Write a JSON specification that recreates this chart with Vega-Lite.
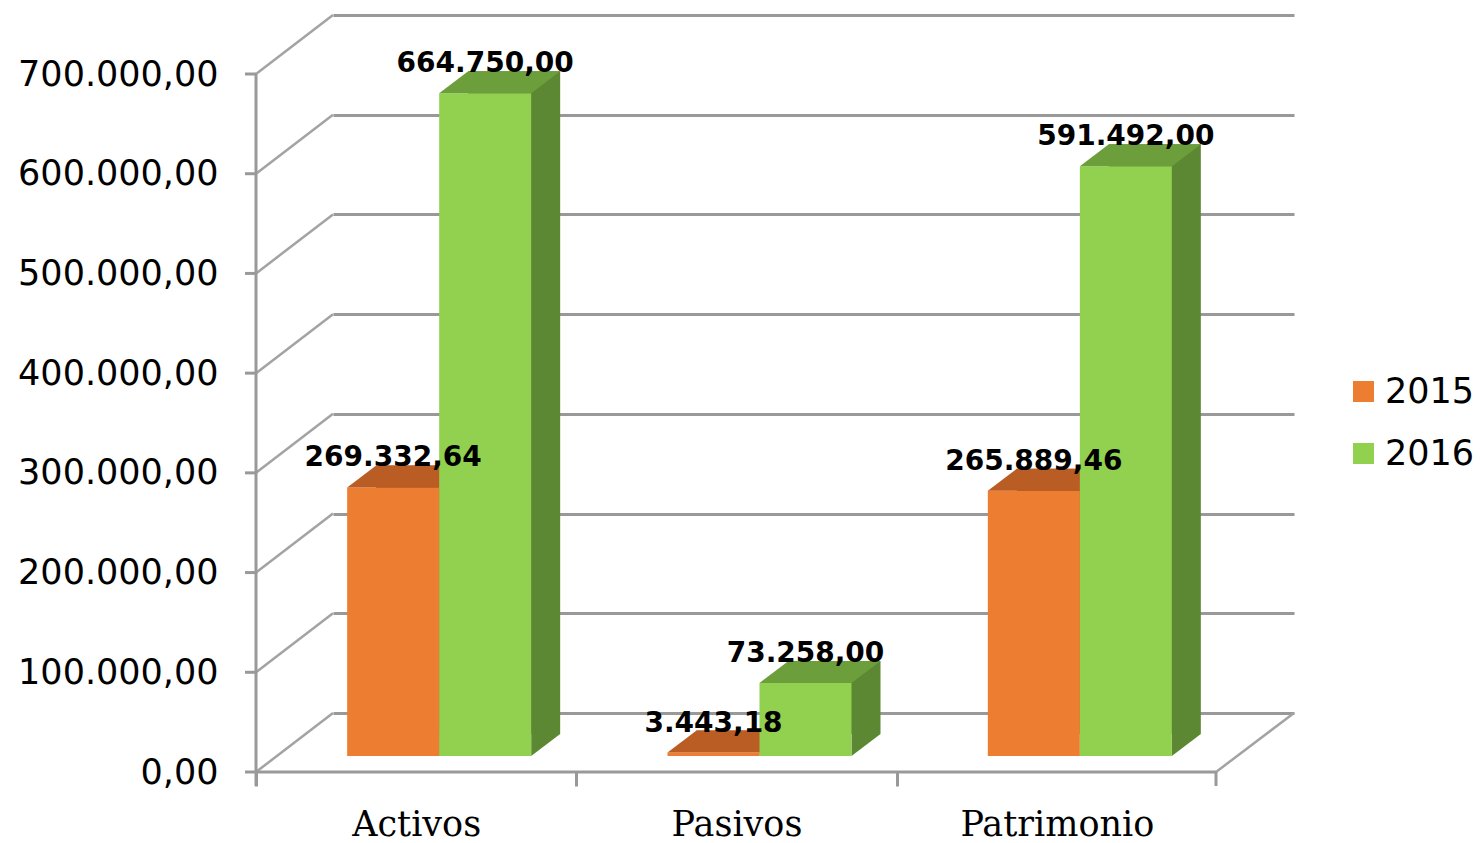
{
  "$schema": "https://vega.github.io/schema/vega-lite/v6.json",
  "width": 961,
  "height": 698,
  "autosize": {"type": "none"},
  "padding": {"left": 333, "top": 15, "right": 186, "bottom": 130},
  "background": "white",
  "config": {
    "locale": {"number": {"decimal": ",", "thousands": ".", "grouping": [3], "currency": ["", " €"]}},
    "view": {"stroke": null}
  },
  "datasets": {
    "bars": [
      {"cat": "Activos", "year": "2015", "value": 269332.64},
      {"cat": "Activos", "year": "2016", "value": 664750.00},
      {"cat": "Pasivos", "year": "2015", "value": 3443.18},
      {"cat": "Pasivos", "year": "2016", "value": 73258.00},
      {"cat": "Patrimonio", "year": "2015", "value": 265889.46},
      {"cat": "Patrimonio", "year": "2016", "value": 591492.00}
    ],
    "ticks": [
      {"v": 0}, {"v": 100000}, {"v": 200000}, {"v": 300000},
      {"v": 400000}, {"v": 500000}, {"v": 600000}, {"v": 700000}
    ],
    "one": [{"k": 1}]
  },
  "layer": [
    {
      "data": {"name": "ticks"},
      "mark": {"type": "rule", "color": "#A3A3A3", "strokeWidth": 2.5, "xOffset": -77, "yOffset": 59, "x2Offset": 0, "y2Offset": 0},
      "encoding": {
        "x": {"datum": "Activos", "type": "nominal", "bandPosition": 0,
              "scale": {"type": "band", "domain": ["Activos", "Pasivos", "Patrimonio"], "paddingInner": 0, "paddingOuter": 0},
              "axis": {"orient": "bottom", "offset": 59, "domain": false, "bandPosition": 0, "tickOffset": -77,
                       "ticks": true, "tickSize": 14, "tickWidth": 3, "tickColor": "#999999",
                       "labelOffset": 0, "labelAngle": 0, "labelFont": "DejaVu Serif", "labelFontSize": 35,
                       "labelColor": "black", "labelPadding": 49, "labelBaseline": "alphabetic", "labelLimit": 0,
                       "grid": false, "title": null}},
        "x2": {"datum": "Activos", "bandPosition": 0},
        "y": {"field": "v", "type": "quantitative",
              "scale": {"domain": [0, 700000], "nice": false, "zero": true},
              "axis": {"orient": "left", "offset": 77, "domain": false, "ticks": false, "tickSize": 0,
                       "grid": true, "gridColor": "#999999", "gridWidth": 3,
                       "labelOffset": 59, "labelPadding": 38, "labelFont": "DejaVu Sans", "labelFontSize": 35,
                       "labelColor": "black", "labelOverlap": false, "labelFlush": false, "labelLimit": 0,
                       "values": [0, 100000, 200000, 300000, 400000, 500000, 600000, 700000],
                       "format": ",.2f", "title": null}},
        "y2": {"field": "v"}
      }
    },
    {
      "data": {"name": "ticks"},
      "mark": {"type": "rule", "color": "#999999", "strokeWidth": 3, "xOffset": -88, "x2Offset": -77, "yOffset": 59},
      "encoding": {
        "x": {"datum": "Activos", "type": "nominal", "bandPosition": 0},
        "x2": {"datum": "Activos", "bandPosition": 0},
        "y": {"field": "v", "type": "quantitative"}
      }
    },
    {
      "data": {"name": "one"},
      "mark": {"type": "rule", "color": "#999999", "strokeWidth": 3, "xOffset": -77, "yOffset": 73, "y2Offset": 59},
      "encoding": {
        "x": {"datum": "Activos", "type": "nominal", "bandPosition": 0},
        "y": {"datum": 0, "type": "quantitative"},
        "y2": {"datum": 700000}
      }
    },
    {
      "data": {"name": "one"},
      "mark": {"type": "rule", "color": "#999999", "strokeWidth": 3, "xOffset": -77, "x2Offset": -78, "yOffset": 59},
      "encoding": {
        "x": {"datum": "Activos", "type": "nominal", "bandPosition": 0},
        "x2": {"datum": "Patrimonio", "bandPosition": 1},
        "y": {"datum": 0, "type": "quantitative"}
      }
    },
    {
      "data": {"name": "one"},
      "mark": {"type": "rule", "color": "#A3A3A3", "strokeWidth": 2.5, "xOffset": -78, "x2Offset": 0, "yOffset": 59, "y2Offset": 0},
      "encoding": {
        "x": {"datum": "Patrimonio", "type": "nominal", "bandPosition": 1},
        "x2": {"datum": "Patrimonio", "bandPosition": 1},
        "y": {"datum": 0, "type": "quantitative"},
        "y2": {"datum": 0}
      }
    },
    {
      "data": {"name": "one"},
      "mark": {"type": "rule", "color": "#999999", "strokeWidth": 3, "xOffset": -78, "yOffset": 59, "y2Offset": 73},
      "encoding": {
        "x": {"datum": "Patrimonio", "type": "nominal", "bandPosition": 1},
        "y": {"datum": 0, "type": "quantitative"},
        "y2": {"datum": 0}
      }
    },
    {
      "data": {"name": "bars"},
      "transform": [{"filter": "datum.year == '2015'"}],
      "mark": {"type": "bar", "width": 92, "color": "#B0561F", "xOffset": -71, "x2Offset": -71, "yOffset": 21, "y2Offset": 21},
      "encoding": {
        "x": {"field": "cat", "type": "nominal"},
        "y": {"field": "value", "type": "quantitative"},
        "y2": {"datum": 0}
      }
    },
    {
      "data": {"name": "bars"},
      "transform": [{"filter": "datum.year == '2015'"}],
      "mark": {"type": "point", "shape": "M 0.92 0 L 0.92 -0.44 L 1.5 -0.44 Z", "size": 10000, "filled": true, "opacity": 1, "strokeWidth": 0, "color": "#B0561F", "xOffset": -100, "yOffset": 43},
      "encoding": {
        "x": {"field": "cat", "type": "nominal"},
        "y": {"datum": 0, "type": "quantitative"}
      }
    },
    {
      "data": {"name": "bars"},
      "transform": [{"filter": "datum.year == '2015'"}],
      "mark": {"type": "bar", "width": 92, "xOffset": -100, "x2Offset": -100, "yOffset": 43, "y2Offset": 43},
      "encoding": {
        "x": {"field": "cat", "type": "nominal"},
        "y": {"field": "value", "type": "quantitative"},
        "y2": {"datum": 0},
        "color": {"field": "year", "type": "nominal",
                  "scale": {"domain": ["2015", "2016"], "range": ["#ED7D31", "#92D050"]},
                  "legend": {"orient": "none", "legendX": 1013, "legendY": 359, "padding": 0, "title": null,
                             "symbolType": "square", "symbolSize": 441, "symbolStrokeWidth": 0,
                             "labelFont": "DejaVu Sans", "labelFontSize": 35, "labelColor": "black", "labelLimit": 0,
                             "rowPadding": 26, "labelOffset": 4}}
      }
    },
    {
      "data": {"name": "bars"},
      "transform": [{"filter": "datum.year == '2015'"}],
      "mark": {"type": "point", "shape": "M -0.92 0 L 0.92 0 L 1.5 -0.44 L -0.34 -0.44 Z", "size": 10000, "filled": true, "opacity": 1, "strokeWidth": 0, "color": "#B95D24", "xOffset": -100, "yOffset": 43},
      "encoding": {
        "x": {"field": "cat", "type": "nominal"},
        "y": {"field": "value", "type": "quantitative"}
      }
    },
    {
      "data": {"name": "bars"},
      "transform": [{"filter": "datum.year == '2016'"}],
      "mark": {"type": "bar", "width": 92, "color": "#5D8833", "xOffset": 21, "x2Offset": 21, "yOffset": 21, "y2Offset": 21},
      "encoding": {
        "x": {"field": "cat", "type": "nominal"},
        "y": {"field": "value", "type": "quantitative"},
        "y2": {"datum": 0}
      }
    },
    {
      "data": {"name": "bars"},
      "transform": [{"filter": "datum.year == '2016'"}],
      "mark": {"type": "point", "shape": "M 0.92 0 L 0.92 -0.44 L 1.5 -0.44 Z", "size": 10000, "filled": true, "opacity": 1, "strokeWidth": 0, "color": "#5D8833", "xOffset": -8, "yOffset": 43},
      "encoding": {
        "x": {"field": "cat", "type": "nominal"},
        "y": {"datum": 0, "type": "quantitative"}
      }
    },
    {
      "data": {"name": "bars"},
      "transform": [{"filter": "datum.year == '2016'"}],
      "mark": {"type": "bar", "width": 92, "xOffset": -8, "x2Offset": -8, "yOffset": 43, "y2Offset": 43},
      "encoding": {
        "x": {"field": "cat", "type": "nominal"},
        "y": {"field": "value", "type": "quantitative"},
        "y2": {"datum": 0},
        "color": {"field": "year", "type": "nominal"}
      }
    },
    {
      "data": {"name": "bars"},
      "transform": [{"filter": "datum.year == '2016'"}],
      "mark": {"type": "point", "shape": "M -0.92 0 L 0.92 0 L 1.5 -0.44 L -0.34 -0.44 Z", "size": 10000, "filled": true, "opacity": 1, "strokeWidth": 0, "color": "#6D9E3C", "xOffset": -8, "yOffset": 43},
      "encoding": {
        "x": {"field": "cat", "type": "nominal"},
        "y": {"field": "value", "type": "quantitative"}
      }
    },
    {
      "data": {"name": "bars"},
      "transform": [{"filter": "datum.year == '2015'"}],
      "mark": {"type": "text", "font": "DejaVu Sans", "fontWeight": "bold", "fontSize": 28, "color": "black", "baseline": "alphabetic", "align": "center", "xOffset": -100, "yOffset": 22},
      "encoding": {
        "x": {"field": "cat", "type": "nominal"},
        "y": {"field": "value", "type": "quantitative"},
        "text": {"field": "value", "type": "quantitative", "format": ",.2f"}
      }
    },
    {
      "data": {"name": "bars"},
      "transform": [{"filter": "datum.year == '2016'"}],
      "mark": {"type": "text", "font": "DejaVu Sans", "fontWeight": "bold", "fontSize": 28, "color": "black", "baseline": "alphabetic", "align": "center", "xOffset": -8, "yOffset": 22},
      "encoding": {
        "x": {"field": "cat", "type": "nominal"},
        "y": {"field": "value", "type": "quantitative"},
        "text": {"field": "value", "type": "quantitative", "format": ",.2f"}
      }
    }
  ]
}
